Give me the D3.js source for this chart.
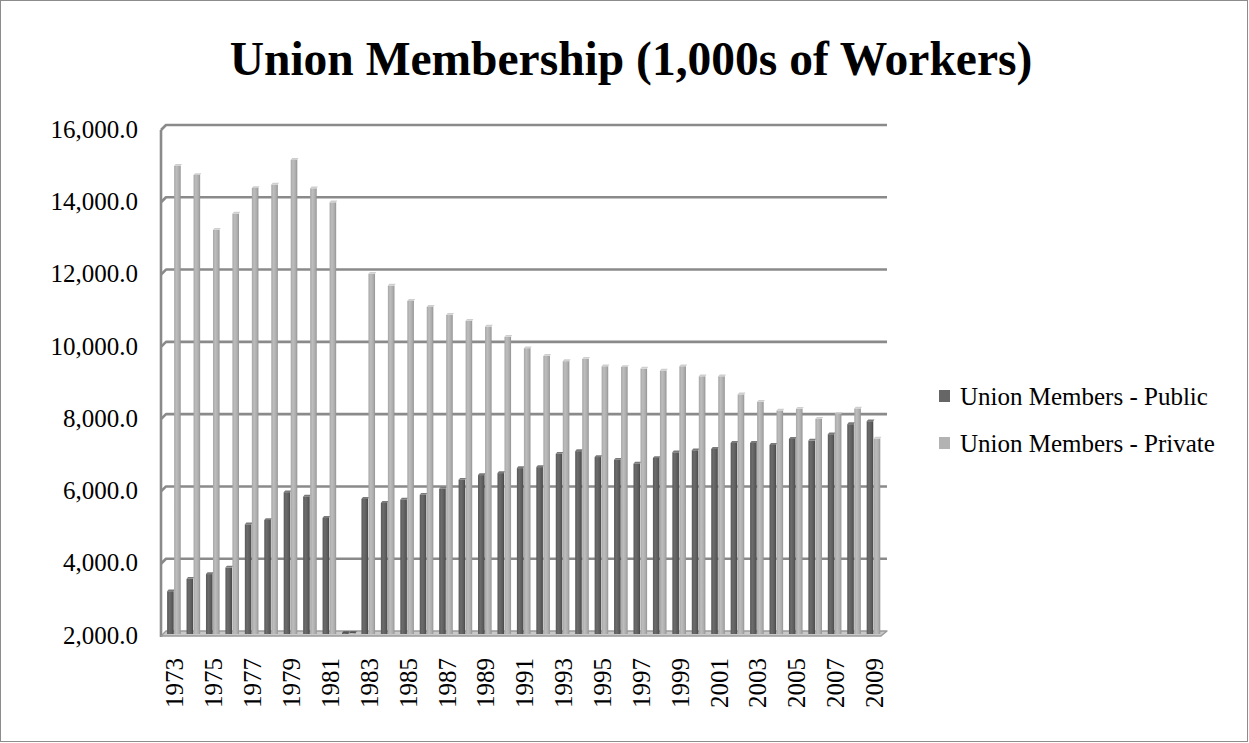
<!DOCTYPE html>
<html>
<head>
<meta charset="utf-8">
<script src="https://cdn.jsdelivr.net/npm/d3@7"></script>
<style>
  html, body { margin: 0; padding: 0; background: #fff; }
  svg { display: block; }
  text { font-family: "Liberation Serif", "Times New Roman", serif; fill: #000; }
</style>
</head>
<body>
<svg id="chart" width="1249" height="743"></svg>
<script>
const years = ["1973","1974","1975","1976","1977","1978","1979","1980","1981","1982",
  "1983","1984","1985","1986","1987","1988","1989","1990","1991","1992","1993","1994",
  "1995","1996","1997","1998","1999","2000","2001","2002","2003","2004","2005","2006",
  "2007","2008","2009"];
const publicMembers = [3156, 3498, 3630, 3810, 5005, 5128, 5896, 5773, 5185, 0,
  5710, 5600, 5690, 5825, 5991, 6240, 6369, 6424, 6562, 6590, 6959, 7032,
  6868, 6795, 6685, 6843, 7000, 7056, 7093, 7259, 7259, 7204, 7370, 7324,
  7500, 7778, 7860];
const privateMembers = [14929, 14673, 13156, 13602, 14313, 14408, 15090, 14303, 13915, 0,
  11940, 11613, 11189, 11023, 10802, 10636, 10479, 10194, 9880, 9668, 9521, 9585,
  9380, 9361, 9315, 9259, 9380, 9102, 9102, 8602, 8398, 8157, 8204, 7926,
  8065, 8213, 7380];
const seriesNames = ["Union Members - Public", "Union Members - Private"];
const yTicks = [2000, 4000, 6000, 8000, 10000, 12000, 14000, 16000];
const xTickLabels = years.filter((d, i) => i % 2 === 0);
const titleText = "Union Membership (1,000s of Workers)";

const svg = d3.select("#chart");
const W = 1249, H = 743;

// outer border
svg.append("rect").attr("x", 0.5).attr("y", 0.5).attr("width", W - 2).attr("height", H - 2)
  .attr("fill", "#fff").attr("stroke", "#8c8c8c").attr("stroke-width", 1);

// gradients
const defs = svg.append("defs");
function grad(id, stops) {
  const g = defs.append("linearGradient").attr("id", id)
    .attr("x1", "0%").attr("x2", "100%").attr("y1", "0%").attr("y2", "0%");
  stops.forEach(s => g.append("stop").attr("offset", s[0]).attr("stop-color", s[1]));
}
grad("gPub", [["0%", "#585858"], ["35%", "#6c6c6c"], ["75%", "#5c5c5c"], ["100%", "#474747"]]);
grad("gPriv", [["0%", "#a6a6a6"], ["35%", "#bdbdbd"], ["75%", "#acacac"], ["100%", "#939393"]]);
grad("gGrid", [["0%", "#8a8a8a"], ["100%", "#8a8a8a"]]);

const wallX = 161, depth = 5;
const plotLeft = 164, plotRight = 883;
const yBack = d3.scaleLinear().domain([2000, 16000]).range([631, 125]);

const x0 = d3.scaleBand().domain(years).range([plotLeft, plotRight]).padding(0);
const x1 = d3.scaleBand().domain(seriesNames)
  .range([x0.bandwidth() * 0.16, x0.bandwidth() * 0.86]).paddingInner(0.06);

// gridlines on back wall
const grid = svg.append("g");
yTicks.filter(v => v > 2000).forEach(v => {
  const y = yBack(v);
  grid.append("path")
    .attr("d", `M${wallX},${y + depth} L${wallX + depth},${y} L${plotRight + 4},${y}`)
    .attr("fill", "none").attr("stroke", "#8a8a8a").attr("stroke-width", 2.6)
    .attr("stroke-linejoin", "round");
});
// left wall
svg.append("line").attr("x1", wallX).attr("x2", wallX)
  .attr("y1", yBack(16000) + depth).attr("y2", yBack(2000) + depth + 1)
  .attr("stroke", "#8a8a8a").attr("stroke-width", 2.6);

// floor
const fy = yBack(2000);
svg.append("path")
  .attr("d", `M${wallX},${fy + depth} L${wallX + depth},${fy} L${plotRight + 4},${fy} L${plotRight - 2},${fy + depth} Z`)
  .attr("fill", "#c8c8c8").attr("stroke", "#9a9a9a").attr("stroke-width", 1.4)
  .attr("stroke-linejoin", "round");

// y axis labels
const yLab = svg.append("g");
yTicks.forEach(v => {
  yLab.append("text")
    .attr("x", 138).attr("y", yBack(v) + 4)
    .attr("dy", "0.35em")
    .attr("text-anchor", "end")
    .attr("font-size", 25)
    .text(d3.format(",.1f")(v));
});

// bars
const series = [
  { name: seriesNames[0], values: publicMembers, fill: "url(#gPub)", cap: "#7a7a7a" },
  { name: seriesNames[1], values: privateMembers, fill: "url(#gPriv)", cap: "#cfcfcf" }
];
const yFront = v => yBack(Math.max(v, 2000)) + 2;
const base = fy + 3;
const barsG = svg.append("g");
years.forEach((yr, i) => {
  series.forEach(s => {
    const v = s.values[i];
    const bx = x0(yr) + x1(s.name);
    const bw = x1.bandwidth();
    const top = yFront(v);
    const h = Math.max(0, base - top);
    if (h > 0.5) {
      barsG.append("rect").attr("x", bx).attr("y", top).attr("width", bw).attr("height", h)
        .attr("fill", s.fill);
    }
    // top cap
    barsG.append("path")
      .attr("d", `M${bx},${top} L${bx + 1.5},${top - 1.8} L${bx + bw + 1.2},${top - 1.8} L${bx + bw},${top} Z`)
      .attr("fill", v > 2000 ? s.cap : "#555");
  });
});

// x axis labels (rotated)
const xLab = svg.append("g");
xTickLabels.forEach(yr => {
  const cx = x0(yr) + x0.bandwidth() / 2 + 1;
  xLab.append("text")
    .attr("transform", `translate(${cx},658) rotate(-90)`)
    .attr("text-anchor", "end")
    .attr("dy", "0.35em")
    .attr("font-size", 25)
    .text(yr);
});

// title
svg.append("text").attr("x", 631).attr("y", 75).attr("text-anchor", "middle")
  .attr("font-size", 47.5).attr("font-weight", "bold").text(titleText);

// legend
const leg = svg.append("g");
const legColors = ["#666666", "#b3b3b3"];
seriesNames.forEach((n, i) => {
  const yb = 405 + i * 47;
  leg.append("rect").attr("x", 939).attr("y", yb - 15).attr("width", 11).attr("height", 12)
    .attr("fill", legColors[i]);
  leg.append("text").attr("x", 960).attr("y", yb).attr("font-size", 25).text(n);
});
</script>
</body>
</html>
